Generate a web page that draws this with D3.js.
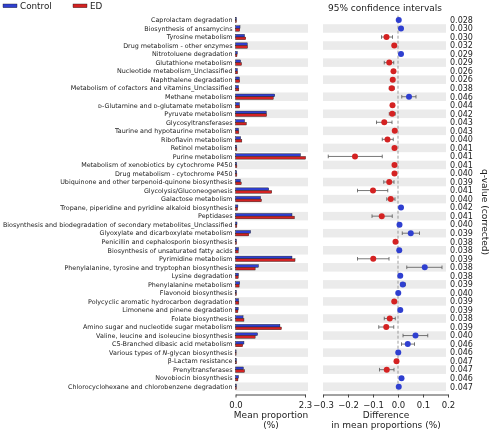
<!DOCTYPE html>
<html><head><meta charset="utf-8">
<script src="https://cdnjs.cloudflare.com/ajax/libs/d3/7.8.5/d3.min.js"></script>
<style>body{margin:0;background:#fff}svg{display:block;will-change:transform;opacity:0.999}text{font-family:"DejaVu Sans",sans-serif;fill:#222}</style>
</head><body><svg id="c" width="492" height="431"></svg>
<script>
const categories = ["Caprolactam degradation","Biosynthesis of ansamycins","Tyrosine metabolism","Drug metabolism - other enzymes","Nitrotoluene degradation","Glutathione metabolism","Nucleotide metabolism_Unclassified","Naphthalene degradation","Metabolism of cofactors and vitamins_Unclassified","Methane metabolism","\u1D05-Glutamine and \u1D05-glutamate metabolism","Pyruvate metabolism","Glycosyltransferases","Taurine and hypotaurine metabolism","Riboflavin metabolism","Retinol metabolism","Purine metabolism","Metabolism of xenobiotics by cytochrome P450","Drug metabolism - cytochrome P450","Ubiquinone and other terpenoid-quinone biosynthesis","Glycolysis/Gluconeogenesis","Galactose metabolism","Tropane, piperidine and pyridine alkaloid biosynthesis","Peptidases","Biosynthesis and biodegradation of secondary metabolites_Unclassified","Glyoxylate and dicarboxylate metabolism","Penicillin and cephalosporin biosynthesis","Biosynthesis of unsaturated fatty acids","Pyrimidine metabolism","Phenylalanine, tyrosine and tryptophan biosynthesis","Lysine degradation","Phenylalanine metabolism","Flavonoid biosynthesis","Polycyclic aromatic hydrocarbon degradation","Limonene and pinene degradation","Folate biosynthesis","Amino sugar and nucleotide sugar metabolism","Valine, leucine and isoleucine biosynthesis","C5-Branched dibasic acid metabolism","Various types of N-glycan biosynthesis","β-Lactam resistance","Prenyltransferases","Novobiocin biosynthesis","Chlorocyclohexane and chlorobenzene degradation"];
const qValues = ["0.028","0.030","0.030","0.032","0.029","0.029","0.026","0.026","0.038","0.046","0.044","0.042","0.043","0.043","0.040","0.041","0.041","0.041","0.040","0.039","0.041","0.040","0.042","0.041","0.040","0.039","0.038","0.038","0.039","0.038","0.038","0.039","0.040","0.039","0.039","0.038","0.039","0.040","0.046","0.046","0.047","0.047","0.046","0.047"];
const controlMean = [0.03,0.15,0.30,0.39,0.06,0.17,0.06,0.13,0.10,1.30,0.13,1.02,0.30,0.10,0.17,0.04,2.15,0.04,0.04,0.16,1.10,0.83,0.08,1.87,0.05,0.50,0.03,0.10,1.87,0.76,0.10,0.14,0.03,0.10,0.09,0.25,1.47,0.73,0.28,0.02,0.03,0.26,0.10,0.03];
const edMean = [0.03,0.14,0.34,0.40,0.05,0.20,0.07,0.14,0.11,1.25,0.14,1.03,0.36,0.11,0.21,0.045,2.32,0.045,0.045,0.19,1.20,0.86,0.07,1.95,0.045,0.44,0.035,0.09,1.97,0.65,0.09,0.12,0.03,0.11,0.08,0.28,1.52,0.65,0.24,0.02,0.035,0.30,0.08,0.03];
const diffValues = [0.003,0.012,-0.046,-0.015,0.012,-0.035,-0.018,-0.021,-0.025,0.044,-0.022,-0.023,-0.055,-0.013,-0.042,-0.014,-0.172,-0.014,-0.014,-0.035,-0.100,-0.029,0.012,-0.065,0.006,0.051,-0.010,0.005,-0.099,0.107,0.009,0.019,0.001,-0.015,0.009,-0.033,-0.047,0.070,0.039,0.001,-0.006,-0.045,0.014,0.003];
const ciLow = [0.000,0.008,-0.066,-0.021,0.008,-0.055,-0.022,-0.027,-0.035,0.015,-0.028,-0.035,-0.086,-0.018,-0.063,-0.017,-0.279,-0.017,-0.017,-0.057,-0.162,-0.045,0.008,-0.104,0.003,0.017,-0.013,0.001,-0.162,0.035,0.005,0.010,-0.002,-0.020,0.005,-0.055,-0.077,0.020,0.014,-0.002,-0.009,-0.074,0.008,0.000];
const ciHigh = [0.006,0.016,-0.022,-0.009,0.016,-0.017,-0.014,-0.015,-0.015,0.072,-0.016,-0.011,-0.024,-0.008,-0.019,-0.011,-0.063,-0.011,-0.011,-0.016,-0.041,-0.012,0.016,-0.023,0.009,0.086,-0.007,0.009,-0.036,0.176,0.013,0.030,0.004,-0.010,0.013,-0.011,-0.017,0.119,0.066,0.004,-0.003,-0.016,0.020,0.006];
const barTicks = [0.0, 2.3];
const diffTicks = [-0.3,-0.2,-0.1,0.0,0.1,0.2];
const groups = ["Control","ED"];

const BLUE = "#2f3fd0", RED = "#d42222", STRIPE = "#ebebeb";
const svg = d3.select("#c");
const y = d3.scaleBand().domain(categories).range([15.7, 391]).padding(0);
const bw = y.bandwidth();
const xBar = d3.scaleLinear().domain([0, 2.3]).range([235.5, 305]);
const xDiff = d3.scaleLinear().domain([-0.3, 0.2]).range([323, 448]);
const color = d3.scaleOrdinal().domain(groups).range([BLUE, RED]);

// stripes
const rows = svg.append("g");
categories.forEach((c, i) => {
  if (i % 2 === 1) {
    rows.append("rect").attr("x", 235.5).attr("y", y(c)).attr("width", 308 - 235.5).attr("height", bw).attr("fill", STRIPE);
    rows.append("rect").attr("x", 323).attr("y", y(c)).attr("width", 446 - 323).attr("height", bw).attr("fill", STRIPE);
  }
});

// labels (italic N in "N-glycan")
svg.append("g").selectAll("text").data(categories).join("text")
  .attr("x", 232.5).attr("y", d => y(d) + bw / 2).attr("dy", "0.35em")
  .attr("text-anchor", "end").attr("font-size", 6.4)
  .each(function(d) {
    const t = d3.select(this);
    const m = d.match(/^(.*of )(N)(-glycan.*)$/);
    if (m) {
      t.append("tspan").text(m[1]);
      t.append("tspan").attr("font-style", "italic").text(m[2]);
      t.append("tspan").text(m[3]);
    } else t.text(d);
  });

// bars
const bh = 2.7;
const barG = svg.append("g");
categories.forEach((c, i) => {
  const cy = y(c) + bw / 2;
  barG.append("rect").attr("x", xBar(0)).attr("y", cy - bh).attr("width", xBar(controlMean[i]) - xBar(0)).attr("height", bh)
    .attr("fill", color("Control")).attr("stroke", "#1a1a1a").attr("stroke-width", 0.4);
  barG.append("rect").attr("x", xBar(0)).attr("y", cy).attr("width", xBar(edMean[i]) - xBar(0)).attr("height", bh)
    .attr("fill", color("ED")).attr("stroke", "#1a1a1a").attr("stroke-width", 0.4);
});

// bar axis
const axB = svg.append("g").attr("transform", "translate(0,394.5)")
  .call(d3.axisBottom(xBar).tickValues(barTicks).tickFormat(d3.format(".1f")).tickSize(3).tickSizeOuter(0));
axB.select(".domain").attr("stroke", "#444");
axB.selectAll(".tick line").attr("stroke", "#444");
axB.selectAll("text").attr("font-size", 8.5).attr("font-family", "DejaVu Sans").attr("fill", "#222").attr("dy", "0.9em");

// diff axis
const axD = svg.append("g").attr("transform", "translate(0,394.5)")
  .call(d3.axisBottom(xDiff).tickValues(diffTicks).tickFormat(d => d3.format(".1f")(d).replace("-", "\u2212")).tickSize(3).tickSizeOuter(0));
axD.select(".domain").attr("stroke", "#444");
axD.selectAll(".tick line").attr("stroke", "#444");
axD.selectAll("text").attr("font-size", 8.5).attr("font-family", "DejaVu Sans").attr("fill", "#222").attr("dy", "0.9em");

// zero line
svg.append("line").attr("x1", xDiff(0)).attr("x2", xDiff(0)).attr("y1", 15.7).attr("y2", 391)
  .attr("stroke", "#777").attr("stroke-width", 0.7).attr("stroke-dasharray", "3,2");

// CIs and points
const pG = svg.append("g");
categories.forEach((c, i) => {
  const cy = y(c) + bw / 2;
  const lo = xDiff(ciLow[i]), hi = xDiff(ciHigh[i]);
  pG.append("line").attr("x1", lo).attr("x2", hi).attr("y1", cy).attr("y2", cy).attr("stroke", "#555").attr("stroke-width", 0.8);
  [lo, hi].forEach(xx => pG.append("line").attr("x1", xx).attr("x2", xx).attr("y1", cy - 1.8).attr("y2", cy + 1.8).attr("stroke", "#555").attr("stroke-width", 0.8));
  pG.append("circle").attr("cx", xDiff(diffValues[i])).attr("cy", cy).attr("r", 3)
    .attr("fill", diffValues[i] >= 0 ? color("Control") : color("ED"));
});

// q-values
svg.append("g").selectAll("text").data(categories).join("text")
  .attr("x", 450).attr("y", d => y(d) + bw / 2).attr("dy", "0.35em")
  .attr("font-size", 8).text((d, i) => qValues[i]);

// titles
svg.append("text").attr("x", 385).attr("y", 8).attr("dy", "0.35em").attr("text-anchor", "middle").attr("font-size", 9).text("95% confidence intervals");
svg.append("text").attr("transform", "translate(485,212) rotate(90)").attr("text-anchor", "middle").attr("dy", "0.35em").attr("font-size", 9).text("q-value (corrected)");
svg.append("text").attr("x", 271).attr("y", 415).attr("dy", "0.35em").attr("text-anchor", "middle").attr("font-size", 9).text("Mean proportion");
svg.append("text").attr("x", 271).attr("y", 424.5).attr("dy", "0.35em").attr("text-anchor", "middle").attr("font-size", 9).text("(%)");
svg.append("text").attr("x", 386).attr("y", 415).attr("dy", "0.35em").attr("text-anchor", "middle").attr("font-size", 9).text("Difference");
svg.append("text").attr("x", 386).attr("y", 424.5).attr("dy", "0.35em").attr("text-anchor", "middle").attr("font-size", 9).text("in mean proportions (%)");

// legend
const lg = svg.append("g");
const legX = [3, 73];
groups.forEach((g, i) => {
  lg.append("rect").attr("x", legX[i]).attr("y", 4).attr("width", 14).attr("height", 3.7).attr("fill", color(g)).attr("stroke", "#1a1a1a").attr("stroke-width", 0.4);
  lg.append("text").attr("x", legX[i] + 17).attr("y", 6).attr("dy", "0.35em").attr("font-size", 8.8).text(g);
});
</script></body></html>
